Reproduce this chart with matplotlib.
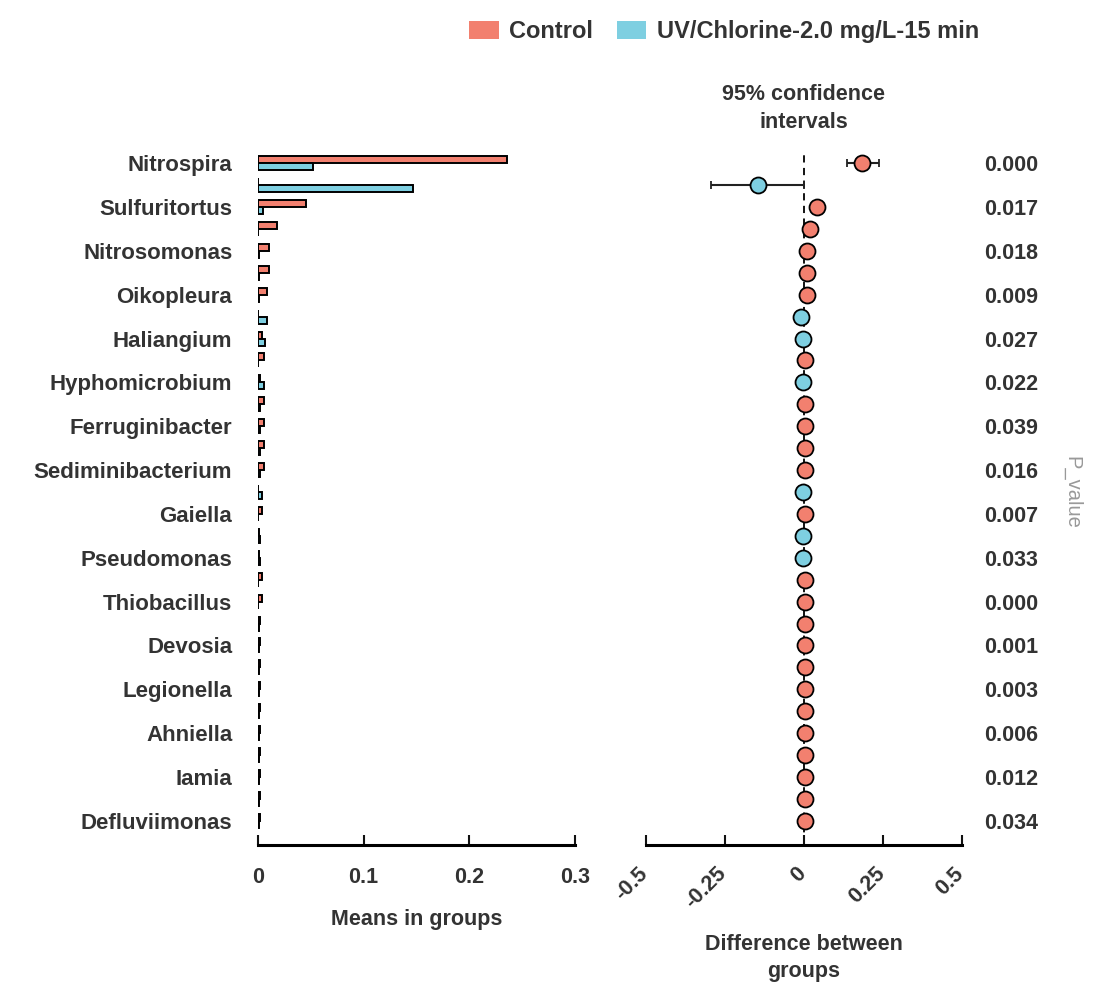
import matplotlib.pyplot as plt
import matplotlib.transforms as mtransforms
from matplotlib.patches import Patch
import numpy as np

plt.rcParams['font.family'] = ['Liberation Sans', 'DejaVu Sans']
plt.rcParams['font.weight'] = 'bold'
plt.rcParams['axes.labelweight'] = 'bold'
plt.rcParams['text.color'] = '#333333'
plt.rcParams['axes.labelcolor'] = '#333333'
plt.rcParams['xtick.color'] = '#111111'
plt.rcParams['xtick.labelcolor'] = '#333333'
plt.rcParams['ytick.labelcolor'] = '#333333'

RED = '#F2806F'
BLUE = '#7ECFE1'

# genera shown on the y axis (every other row is labelled)
genera = ['Nitrospira', '', 'Sulfuritortus', '', 'Nitrosomonas', '', 'Oikopleura', '',
          'Haliangium', '', 'Hyphomicrobium', '', 'Ferruginibacter', '', 'Sediminibacterium', '',
          'Gaiella', '', 'Pseudomonas', '', 'Thiobacillus', '', 'Devosia', '',
          'Legionella', '', 'Ahniella', '', 'Iamia', '', 'Defluviimonas']

# mean relative abundance per group
control = [0.2353, 0.0, 0.045, 0.0177, 0.0107, 0.0107, 0.009, 0.0005,
           0.004, 0.006, 0.0015, 0.006, 0.006, 0.006, 0.006, 0.0005,
           0.004, 0.0008, 0.0008, 0.004, 0.004, 0.0015, 0.0015, 0.0015,
           0.0015, 0.0015, 0.0015, 0.0015, 0.0015, 0.0015, 0.0015]
uv_chlorine = [0.052, 0.147, 0.005, 0.0005, 0.0008, 0.0008, 0.0008, 0.009,
               0.007, 0.0005, 0.006, 0.0015, 0.0015, 0.0015, 0.0015, 0.004,
               0.0005, 0.0015, 0.0015, 0.0005, 0.0005, 0.0012, 0.0012, 0.0012,
               0.0012, 0.0012, 0.0012, 0.0012, 0.0012, 0.0012, 0.0012]

# difference between groups with 95% CI
diff = [0.183, -0.147, 0.040, 0.019, 0.011, 0.011, 0.011, -0.008,
        -0.003, 0.004, -0.003, 0.004, 0.004, 0.004, 0.004, -0.004,
        0.004, -0.003, -0.003, 0.003, 0.003, 0.003, 0.003, 0.003,
        0.003, 0.003, 0.003, 0.003, 0.003, 0.003, 0.003]
ci_low = [0.135, -0.294, 0.022, 0.012, 0.006, 0.006, 0.006, -0.013,
          -0.006, 0.001, -0.006, 0.001, 0.001, 0.001, 0.001, -0.007,
          0.001, -0.006, -0.006, 0.001, 0.001, 0.001, 0.001, 0.001,
          0.001, 0.001, 0.001, 0.001, 0.001, 0.001, 0.001]
ci_high = [0.239, 0.0, 0.062, 0.026, 0.016, 0.016, 0.016, -0.003,
           0.0, 0.007, 0.0, 0.007, 0.007, 0.007, 0.007, -0.001,
           0.007, 0.0, 0.0, 0.005, 0.005, 0.005, 0.005, 0.005,
           0.005, 0.005, 0.005, 0.005, 0.005, 0.005, 0.005]

p_values = ['0.000', '0.017', '0.018', '0.009', '0.027', '0.022', '0.039', '0.016',
            '0.007', '0.033', '0.000', '0.001', '0.003', '0.006', '0.012', '0.034']

rows = np.arange(len(genera))
labelled = rows[::2]

fig = plt.figure(figsize=(10.94, 9.92), dpi=100)
ax1 = fig.add_axes([0.2358, 0.1482, 0.2898, 0.7006])
ax2 = fig.add_axes([0.5905, 0.1482, 0.2888, 0.7006])

# left: grouped bars
bh = 0.32
ax1.barh(rows - bh / 2, control, height=bh, color=RED, edgecolor='black', linewidth=1.4)
ax1.barh(rows + bh / 2, uv_chlorine, height=bh, color=BLUE, edgecolor='black', linewidth=1.4)
ax1.set_xlim(0, 0.3)
ax1.set_ylim(31.1, -0.6)
ax1.set_xticks([0, 0.1, 0.2, 0.3])
ax1.set_xticklabels(['0', '0.1', '0.2', '0.3'])
ax1.set_yticks(labelled)
ax1.set_yticklabels([genera[i] for i in labelled])
ax1.set_xlabel('Means in groups', fontsize=15.5, labelpad=15)

# right: differences with confidence intervals
ax2.axvline(0, color='black', lw=1.3, ls=(0, (4, 3)), zorder=1)
for i in rows:
    c = RED if diff[i] > 0 else BLUE
    ax2.errorbar(diff[i], i, xerr=[[diff[i] - ci_low[i]], [ci_high[i] - diff[i]]],
                 fmt='o', ms=11.5, mfc=c, mec='black', mew=1.3,
                 ecolor='#222222', elinewidth=1.5, capsize=3, capthick=1.5, zorder=3)
ax2.set_xlim(-0.5, 0.5)
ax2.set_ylim(31.1, -0.6)
ax2.set_xticks([-0.5, -0.25, 0, 0.25, 0.5])
ax2.set_xticklabels(['-0.5', '-0.25', '0', '0.25', '0.5'], rotation=45, ha='right')
ax2.set_yticks([])
ax2.set_xlabel('Difference between\ngroups', fontsize=15.5, labelpad=15, linespacing=1.4)
ax2.set_title('95% confidence\nintervals', fontsize=15.5, fontweight='bold',
              color='#333333', pad=16, linespacing=1.45)

for ax in (ax1, ax2):
    for s in ('top', 'right', 'left'):
        ax.spines[s].set_visible(False)
    ax.spines['bottom'].set_linewidth(2.2)
    ax.tick_params(axis='x', direction='in', length=7, width=1.5, pad=16, labelsize=15.5)
ax1.tick_params(axis='y', length=0, pad=18.5, labelsize=16)
ax2.tick_params(axis='x', pad=13)

# nudge rotated tick labels so their right end sits just past the tick
shift = mtransforms.ScaledTranslation(0.06, 0, fig.dpi_scale_trans)
for lab in ax2.get_xticklabels():
    lab.set_transform(lab.get_transform() + shift)

# p-values column
trans = mtransforms.blended_transform_factory(ax2.transAxes, ax2.transData)
for r, p in zip(labelled, p_values):
    ax2.text(1.155, r, p, transform=trans, ha='center', va='center_baseline', fontsize=15.5)
ax2.text(1.348, 15, 'P_value', transform=trans, ha='center', va='center',
         rotation=270, fontsize=14.5, fontweight='normal', color='#999999')

handles = [Patch(facecolor=RED, edgecolor='none', label='Control'),
           Patch(facecolor=BLUE, edgecolor='none', label='UV/Chlorine-2.0 mg/L-15 min')]
fig.legend(handles=handles, loc='center', bbox_to_anchor=(0.662, 0.968), ncol=2,
           frameon=False, fontsize=17, handlelength=1.25, handleheight=0.85,
           handletextpad=0.45, columnspacing=1.0)

fig.savefig('out.png', dpi=100)
